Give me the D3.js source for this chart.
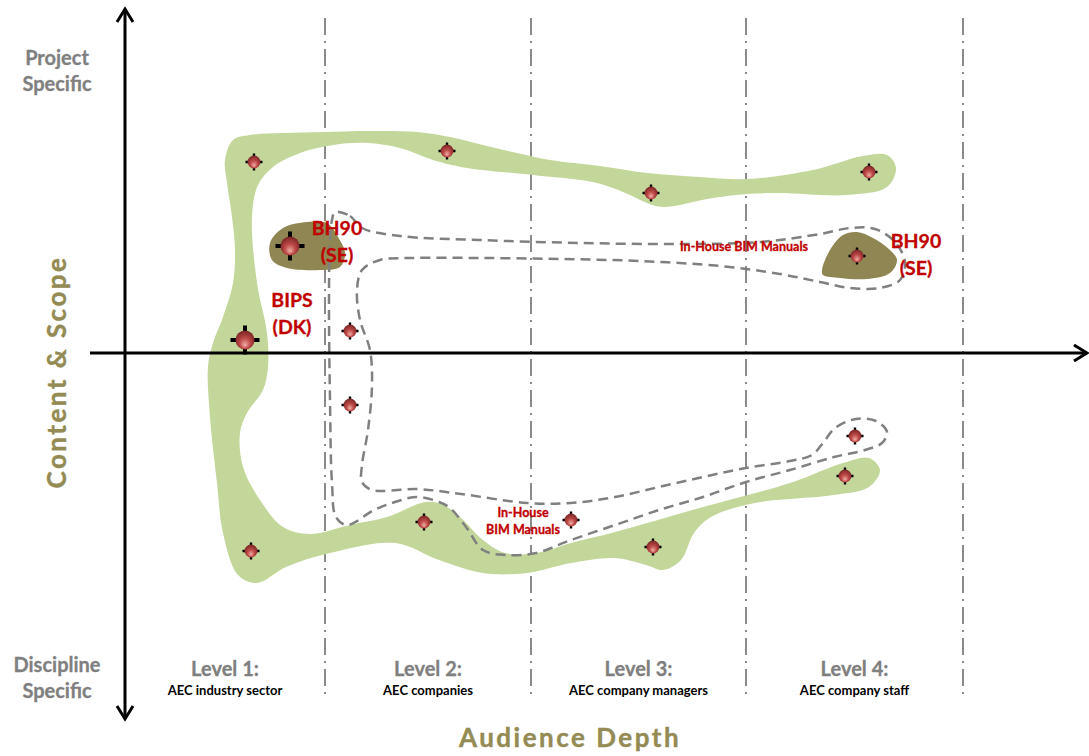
<!DOCTYPE html>
<html>
<head>
<meta charset="utf-8">
<script src="https://cdn.jsdelivr.net/npm/d3@7"></script>
<style>
body { margin: 0; background: #fff; }
#chart { width: 1089px; height: 756px; }
text { font-family: Lato, "Open Sans", sans-serif; font-weight: bold; }
</style>
</head>
<body>
<div id="chart"></div>
<script>
//Datos: eje X = profundidad de audiencia, eje Y = contenido y alcance
const levelBounds = [20.0, 40.6, 62.1, 83.8];
const levelTitles = ['Level 1:', 'Level 2:', 'Level 3:', 'Level 4:'];
const levelAudiences = ['AEC industry sector', 'AEC companies', 'AEC company managers', 'AEC company staff'];
const scopeTop = ['Project', 'Specific'];
const scopeBottom = ['Discipline', 'Specific'];

const smallPoints = [[12.9,19.1],[32.2,20.2],[52.6,16.0],[74.4,18.1],[73.2,9.7],[22.5,2.2],[22.5,-5.2],
    [73.0,-8.3],[72.0,-12.3],[12.6,-19.8],[29.9,-16.9],[44.6,-16.7],[52.8,-19.4]];
const largePoints = [[16.5,10.7],[12.0,1.3]];

const greenOutline = [[10.0,19.3],[10.8,21.3],[12.5,21.8],[15.8,22.0],[20.0,22.1],[24.2,22.2],[29.2,22.1],
    [32.5,21.6],[35.8,20.8],[39.2,20.0],[42.5,19.3],[47.5,18.7],[52.2,18.0],[57.5,17.6],[62.2,17.4],[68.8,18.3],
    [73.8,19.7],[76.2,19.8],[77.1,18.5],[76.2,16.6],[72.2,15.8],[65.5,16.0],[62.2,15.9],[58.8,15.5],[53.8,14.6],
    [52.2,15.0],[50.5,15.8],[47.2,17.0],[40.8,17.8],[34.2,18.5],[30.8,19.3],[27.5,20.5],[24.2,21.0],[20.8,20.8],
    [17.5,20.0],[14.8,18.6],[13.3,16.8],[12.7,13.6],[13.2,7.0],[14.2,2.0],[14.3,-1.4],[13.8,-3.7],[12.2,-6.0],
    [11.5,-8.0],[11.8,-11.4],[13.5,-14.7],[15.8,-17.4],[18.5,-18.1],[22.5,-17.2],[26.2,-16.4],[30.1,-14.9],
    [31.8,-15.2],[33.5,-16.4],[35.8,-18.7],[38.0,-20.0],[41.1,-20.0],[44.6,-19.0],[49.0,-17.9],[57.8,-15.4],
    [66.5,-13.0],[71.8,-11.0],[74.4,-10.5],[75.5,-11.7],[74.4,-13.4],[70.9,-14.2],[63.0,-15.0],[58.6,-16.4],
    [56.9,-18.0],[55.6,-20.7],[53.8,-21.7],[52.1,-21.2],[49.0,-20.5],[44.6,-21.0],[40.2,-22.0],[35.8,-22.0],
    [31.4,-20.7],[27.0,-19.0],[20.5,-20.0],[16.1,-21.4],[13.2,-23.0],[11.3,-22.2],[9.8,-18.0],[9.2,-13.0],
    [8.5,-6.4],[8.3,-1.4],[8.8,1.0],[9.8,3.6],[10.8,7.0],[11.0,10.3],[10.7,13.6],[10.2,17.0]];

const oliveLeft = [[14.5,11.0],[15.8,12.5],[18.2,13.1],[20.2,13.0],[21.3,11.6],[22.0,10.0],[21.5,8.6],
    [19.5,8.3],[16.2,8.5],[14.7,9.3]];
const oliveRight = [[69.7,8.3],[70.5,10.3],[71.8,11.8],[73.2,12.1],[74.8,11.5],[76.5,10.3],[77.2,9.3],
    [76.5,8.0],[74.2,7.4],[71.5,7.5],[69.8,7.8]];

const dashedOutline = [[21.0,14.1],[22.5,13.7],[23.7,12.5],[27.5,11.7],[35.5,11.3],[45.5,11.0],[55.5,10.9],
    [63.5,11.1],[69.5,11.9],[72.5,12.5],[75.0,12.4],[77.0,11.1],[78.0,9.1],[77.5,7.3],[75.5,6.5],[72.5,6.5],
    [69.5,7.1],[65.5,7.9],[59.5,8.7],[51.5,9.2],[43.5,9.4],[35.5,9.5],[28.5,9.5],[25.5,9.3],[23.7,8.3],
    [23.2,6.3],[23.5,3.3],[24.5,0.3],[24.7,-3.2],[24.3,-7.7],[23.7,-11.2],[23.7,-12.9],[24.7,-13.7],
    [29.2,-13.6],[33.6,-14.1],[40.2,-15.0],[44.6,-15.0],[49.0,-14.4],[53.4,-13.4],[57.8,-12.4],[62.1,-11.5],
    [66.5,-10.8],[68.7,-10.2],[69.8,-9.0],[71.0,-7.5],[73.1,-6.6],[75.1,-6.8],[76.2,-7.9],[75.7,-9.0],
    [74.0,-9.7],[70.9,-10.4],[66.5,-11.7],[62.1,-12.9],[57.8,-14.4],[53.4,-15.7],[49.0,-17.2],[44.6,-18.7],
    [41.1,-20.0],[38.0,-20.2],[35.8,-19.7],[34.1,-17.4],[32.5,-15.5],[31.4,-14.9],[29.2,-14.4],[27.0,-14.9],
    [24.9,-15.7],[22.2,-17.2],[21.1,-16.4],[20.7,-13.0],[20.5,-4.7],[20.4,5.3],[20.5,11.3],[20.7,13.3]];

const countryLabels = [['BH90','(SE)'], ['BIPS','(DK)'], ['BH90','(SE)']];
const countryAnchors = [[21.2,12.5],[16.7,5.3],[79.1,11.2]];
const manualLabels = [['In-House BIM Manuals'], ['In-House','BIM Manuals']];
const manualAnchors = [[61.9,10.6],[39.8,-16.0]];

//Colores
const COLOR_GREEN = '#c4d79b',
    COLOR_OLIVE = '#8f8653',
    COLOR_OLIVE_TEXT = '#948a54',
    COLOR_GRAY = '#7f7f7f',
    COLOR_RED = '#c00000';

let width = 1089, height = 756;

let svg = d3.select('#chart')
    .append('svg')
        .attr('width', width)
        .attr('height', height);

let x = d3.scaleLinear()
    .domain([0, 96.3])
    .range([125, 1088]);

let y = d3.scaleLinear()
    .domain([-36.7, 34.5])
    .range([720, 8]);

//Degradado de las esferas
let defs = svg.append('defs');
let grad = defs.append('radialGradient')
    .attr('id', 'sphere')
    .attr('cx', '50%').attr('cy', '55%').attr('r', '60%')
    .attr('fx', '50%').attr('fy', '78%');
grad.append('stop').attr('offset', '0%').attr('stop-color', '#f0b0a8');
grad.append('stop').attr('offset', '45%').attr('stop-color', '#bf4a48');
grad.append('stop').attr('offset', '100%').attr('stop-color', '#702020');

let closed = d3.line()
    .x(function(d) { return x(d[0]); })
    .y(function(d) { return y(d[1]); })
    .curve(d3.curveCatmullRomClosed.alpha(0.5));

//Líneas divisorias de niveles
svg.append('g')
    .selectAll('line')
    .data(levelBounds)
    .enter()
    .append('line')
    .attr('x1', function(d) { return x(d); })
    .attr('x2', function(d) { return x(d); })
    .attr('y1', y(33.5))
    .attr('y2', y(-34.2))
    .attr('stroke', '#8a8a8a')
    .attr('stroke-width', 2)
    .attr('stroke-dasharray', '17,6,2,6');

//Manchas
svg.append('path')
    .attr('d', closed(greenOutline))
    .attr('fill', COLOR_GREEN);

svg.append('g')
    .selectAll('path')
    .data([oliveLeft, oliveRight])
    .enter()
    .append('path')
    .attr('d', function(d) { return closed(d); })
    .attr('fill', COLOR_OLIVE);

svg.append('path')
    .attr('d', closed(dashedOutline))
    .attr('fill', 'none')
    .attr('stroke', '#808080')
    .attr('stroke-width', 2.5)
    .attr('stroke-dasharray', '10,6');

//Ejes con flechas
let axes = svg.append('g')
    .attr('stroke', '#000')
    .attr('fill', 'none')
    .attr('stroke-width', 3);

let x0 = x(0), y0 = y(0);
axes.append('line')
    .attr('x1', x0).attr('x2', x0)
    .attr('y1', y(34.5) + 1).attr('y2', y(-36.7) - 1);
axes.append('line')
    .attr('x1', x(-3.5)).attr('x2', x(96.3) - 1)
    .attr('y1', y0).attr('y2', y0);
axes.append('path')
    .attr('d', 'M' + (x0 - 8) + ',' + (y(34.5) + 14) + 'L' + x0 + ',' + (y(34.5) + 1) + 'L' + (x0 + 8) + ',' + (y(34.5) + 14));
axes.append('path')
    .attr('d', 'M' + (x0 - 8) + ',' + (y(-36.7) - 14) + 'L' + x0 + ',' + (y(-36.7) - 1) + 'L' + (x0 + 8) + ',' + (y(-36.7) - 14));
axes.append('path')
    .attr('d', 'M' + (x(96.3) - 14) + ',' + (y0 - 8) + 'L' + (x(96.3) - 1) + ',' + y0 + 'L' + (x(96.3) - 14) + ',' + (y0 + 8));

//Marcadores
function drawMarkers(data, arm, armWidth, r) {
    let g = svg.append('g')
        .selectAll('g')
        .data(data)
        .enter()
        .append('g')
        .attr('transform', function(d) { return 'translate(' + x(d[0]) + ',' + y(d[1]) + ')'; });
    g.append('path')
        .attr('d', 'M' + (-arm) + ',0H' + arm + 'M0,' + (-arm) + 'V' + arm)
        .attr('stroke', '#000')
        .attr('stroke-width', armWidth);
    g.append('circle')
        .attr('r', r)
        .attr('fill', 'url(#sphere)');
}
drawMarkers(smallPoints, 8.5, 2.4, 6.5);
drawMarkers(largePoints, 14.5, 4, 9.5);

//Etiquetas rojas
function drawLabels(lines, anchors, size, lh) {
    svg.append('g')
        .selectAll('text')
        .data(lines)
        .enter()
        .append('text')
        .attr('fill', COLOR_RED)
        .attr('stroke', COLOR_RED)
        .attr('stroke-width', 0.3)
        .attr('font-size', size)
        .attr('text-anchor', 'middle')
        .attr('transform', function(d, i) { return 'translate(' + x(anchors[i][0]) + ',' + y(anchors[i][1]) + ')'; })
        .selectAll('tspan')
        .data(function(d) { return d; })
        .enter()
        .append('tspan')
        .attr('x', 0)
        .attr('y', function(d, i) { return i * lh; })
        .attr('dy', '0.35em')
        .text(function(d) { return d; });
}
drawLabels(countryLabels, countryAnchors, 19.5, 27);
drawLabels(manualLabels, manualAnchors, 12.5, 17);

//Niveles
let mids = [0].concat(levelBounds);
let levels = svg.append('g')
    .selectAll('g')
    .data(levelTitles)
    .enter()
    .append('g')
    .attr('transform', function(d, i) { return 'translate(' + x((mids[i] + mids[i + 1]) / 2) + ',0)'; });
levels.append('text')
    .attr('y', 669)
    .attr('dy', '0.35em')
    .attr('text-anchor', 'middle')
    .attr('fill', COLOR_GRAY)
    .attr('stroke', COLOR_GRAY)
    .attr('stroke-width', 0.3)
    .attr('font-size', 20)
    .text(function(d) { return d; });
levels.append('text')
    .attr('y', 690)
    .attr('dy', '0.35em')
    .attr('text-anchor', 'middle')
    .attr('fill', '#000')
    .attr('font-size', 13)
    .text(function(d, i) { return levelAudiences[i]; });

//Extremos del eje Y
function sideLabel(lines, top) {
    svg.append('text')
        .attr('text-anchor', 'middle')
        .attr('fill', COLOR_GRAY)
        .attr('stroke', COLOR_GRAY)
        .attr('stroke-width', 0.3)
        .attr('font-size', 20)
        .selectAll('tspan')
        .data(lines)
        .enter()
        .append('tspan')
        .attr('x', 57)
        .attr('y', function(d, i) { return top + i * 26; })
        .attr('dy', '0.35em')
        .text(function(d) { return d; });
}
sideLabel(scopeTop, 58);
sideLabel(scopeBottom, 665);

//Títulos de ejes
svg.append('text')
    .attr('transform', 'translate(57,372) rotate(-90)')
    .attr('text-anchor', 'middle')
    .attr('dy', '0.35em')
    .attr('fill', COLOR_OLIVE_TEXT)
    .attr('stroke', COLOR_OLIVE_TEXT)
    .attr('stroke-width', 0.4)
    .attr('font-size', 26)
    .attr('letter-spacing', 2.5)
    .text('Content & Scope');

svg.append('text')
    .attr('x', 570)
    .attr('y', 738)
    .attr('text-anchor', 'middle')
    .attr('dy', '0.35em')
    .attr('fill', COLOR_OLIVE_TEXT)
    .attr('stroke', COLOR_OLIVE_TEXT)
    .attr('stroke-width', 0.4)
    .attr('font-size', 26)
    .attr('letter-spacing', 2.5)
    .text('Audience Depth');
</script>
</body>
</html>
